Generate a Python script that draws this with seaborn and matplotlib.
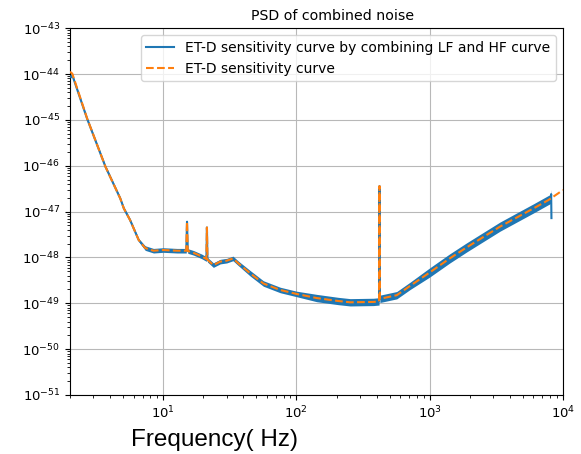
import numpy as np
import matplotlib
matplotlib.use("Agg")
import matplotlib.pyplot as plt
from matplotlib.ticker import LogLocator, NullFormatter
import seaborn as sns

# ---------------- Data ----------------
# ET-D design curve (orange, dashed)
freq_etd = [2.0, 2.08, 2.69, 3.69, 4.76, 5.07, 5.65, 6.55, 7.33, 8.46, 10, 12.7,
            14.9, 15.1, 15.3, 16.9, 19.5, 21.1, 21.3, 21.5, 23.8, 26.8, 30.0, 33.4,
            36.7, 45, 56.5, 75.5, 100, 142, 206, 253, 378, 417, 420, 423, 566, 713,
            1000, 1413, 1897, 3371, 6000, 7770, 10000]
psd_etd = [1.12e-44, 1.02e-44, 1.07e-45, 9.5e-47, 1.95e-47, 1.17e-47, 6.5e-48, 2.4e-48,
           1.6e-48, 1.4e-48, 1.45e-48, 1.4e-48, 1.4e-48, 6.0e-48, 1.38e-48, 1.26e-48,
           1.05e-48, 9.2e-49, 4.5e-48, 8.9e-49, 6.8e-49, 8.1e-49, 8.5e-49, 9.5e-49,
           7.4e-49, 4.5e-49, 2.7e-49, 1.95e-49, 1.6e-49, 1.3e-49, 1.12e-49, 1.05e-49,
           1.07e-49, 1.1e-49, 3.6e-47, 1.25e-49, 1.5e-49, 2.4e-49, 4.7e-49, 9.5e-49,
           1.66e-48, 4.7e-48, 1.17e-47, 1.78e-47, 2.95e-47]

# combined LF + HF curve (blue), stops at 8192 Hz
freq_comb = [2.0, 2.08, 2.69, 3.69, 4.76, 5.07, 5.65, 6.55, 7.33, 8.46, 10, 12.7,
             14.9, 15.1, 15.3, 16.9, 19.5, 21.1, 21.3, 21.5, 23.8, 26.8, 30.0, 33.4,
             36.7, 45, 56.5, 75.5, 100, 142, 206, 253, 378, 417, 420, 423, 566, 713,
             1000, 1413, 1897, 3371, 6000, 7770, 8100, 8150, 8192]
psd_comb = [8.5e-45, 9.5e-45, 1.05e-45, 9.5e-47, 1.95e-47, 1.17e-47, 6.5e-48, 2.4e-48,
            1.6e-48, 1.4e-48, 1.45e-48, 1.4e-48, 1.4e-48, 6.0e-48, 1.38e-48, 1.26e-48,
            1.05e-48, 9.2e-49, 4.5e-48, 8.9e-49, 6.8e-49, 8.1e-49, 8.5e-49, 9.5e-49,
            7.4e-49, 4.5e-49, 2.7e-49, 1.95e-49, 1.6e-49, 1.3e-49, 1.12e-49, 1.05e-49,
            1.07e-49, 1.1e-49, 3.6e-47, 1.25e-49, 1.5e-49, 2.4e-49, 4.7e-49, 9.5e-49,
            1.66e-48, 4.7e-48, 1.17e-47, 1.78e-47, 1.9e-47, 2.4e-47, 7.2e-48]
# half-width of the noisy blue band, in decades
spread_comb = [0.03, 0.03, 0.03, 0.03, 0.03, 0.03, 0.03, 0.03, 0.05, 0.05, 0.05, 0.05,
               0.05, 0.05, 0.05, 0.05, 0.05, 0.05, 0.05, 0.05, 0.05, 0.05, 0.05, 0.05,
               0.05, 0.06, 0.06, 0.06, 0.06, 0.08, 0.08, 0.08, 0.08, 0.08, 0.08, 0.08,
               0.08, 0.08, 0.1, 0.1, 0.1, 0.1, 0.1, 0.1, 0.1, 0.1, 0.02]

# ---------------- Plot ----------------
fig, ax = plt.subplots(figsize=(5.81, 4.54), dpi=100)
fig.subplots_adjust(left=0.1205, right=0.969, bottom=0.130, top=0.938)

blue = "#1f77b4"
orange = "#ff7f0e"

comb = np.array(psd_comb)
spread = np.array(spread_comb)
ax.fill_between(freq_comb, comb * 10 ** (-spread), comb * 10 ** spread,
                color=blue, lw=0, zorder=2)
sns.lineplot(x=freq_comb, y=psd_comb, ax=ax, color=blue, lw=1.5, sort=False,
             label="ET-D sensitivity curve by combining LF and HF curve", zorder=3)
sns.lineplot(x=freq_etd, y=psd_etd, ax=ax, color=orange, lw=1.5, linestyle="--",
             sort=False, label="ET-D sensitivity curve", zorder=4)

ax.set_xscale("log")
ax.set_yscale("log")
ax.set_xlim(2, 1e4)
ax.set_ylim(1e-51, 1e-43)
ax.yaxis.set_major_locator(LogLocator(base=10, numticks=20))
ax.yaxis.set_minor_locator(LogLocator(base=10, subs=np.arange(2, 10), numticks=20))
ax.yaxis.set_minor_formatter(NullFormatter())
ax.grid(True, which="major", color="#b8b8b8", lw=0.8)
ax.tick_params(labelsize=9.5)

ax.set_title("PSD of combined noise", fontsize=10.2, x=0.533)
ax.set_xlabel("Frequency( Hz)", fontsize=17.5, fontfamily="Liberation Sans")
ax.xaxis.label.set_va("baseline")
ax.xaxis.set_label_coords(0.294, -0.139)
ax.set_ylabel("")
ax.legend(loc="upper right", fontsize=10)

fig.savefig("out.png", dpi=100)
